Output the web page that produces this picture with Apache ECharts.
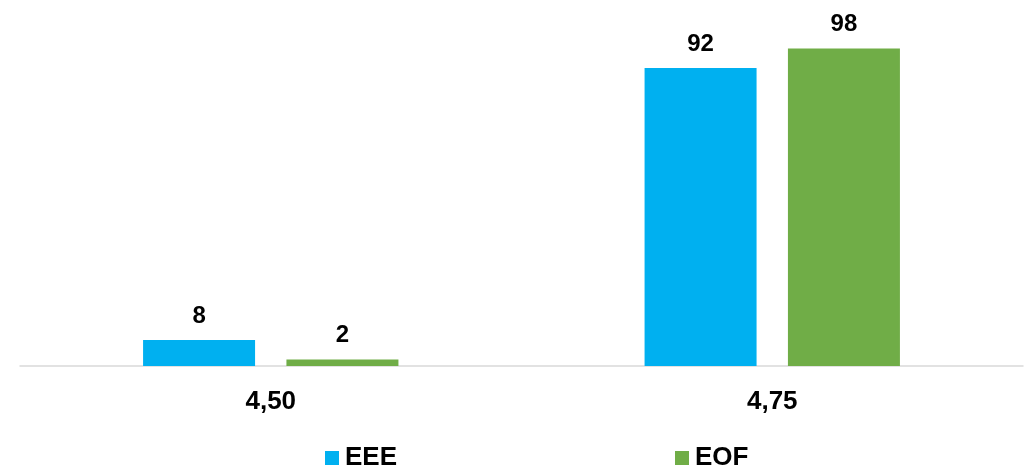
<!DOCTYPE html>
<html>
<head>
<meta charset="utf-8">
<style>html,body{margin:0;padding:0;background:#fff;}#c{width:1033px;height:469px;}</style>
<script src="https://cdn.jsdelivr.net/npm/echarts@6/dist/echarts.min.js"></script>
</head>
<body>
<div id="c"></div>
<script>
const categories = ['4,50', '4,75'];
const seriesNames = ['EEE', 'EOF'];
const eeeValues = [8, 92];
const eofValues = [2, 98];
const colors = ['#00B0F0', '#70AD47'];

const font = '"Liberation Sans", Arial, sans-serif';
const chart = echarts.init(document.getElementById('c'), null, {renderer: 'canvas'});
const labelCfg = {show: true, position: 'top', distance: 12, color: '#000', fontFamily: font, fontWeight: 'bold', fontSize: 24};
chart.setOption({
  animation: false,
  backgroundColor: '#fff',
  grid: {left: 20, right: 10, top: 42, bottom: 103, containLabel: false},
  legend: {
    top: 445, left: 325, itemGap: 278, itemWidth: 14, itemHeight: 14, padding: 0,
    icon: 'rect', data: seriesNames,
    textStyle: {fontFamily: font, fontWeight: 'bold', fontSize: 26, color: '#000', padding: [0, 0, 0, 1]}
  },
  xAxis: {
    type: 'category', data: categories,
    axisLine: {lineStyle: {color: '#D9D9D9', width: 1.5}},
    axisTick: {show: false},
    axisLabel: {margin: 23, color: '#000', fontFamily: font, fontWeight: 'bold', fontSize: 26}
  },
  yAxis: {type: 'value', min: 0, max: 100, show: false, splitLine: {show: false}},
  series: [
    {name: seriesNames[0], type: 'bar', data: eeeValues, barWidth: 112, barGap: '28%', itemStyle: {color: colors[0]}, label: labelCfg},
    {name: seriesNames[1], type: 'bar', data: eofValues, barWidth: 112, barGap: '28%', itemStyle: {color: colors[1]}, label: labelCfg}
  ]
});
</script>
</body>
</html>
